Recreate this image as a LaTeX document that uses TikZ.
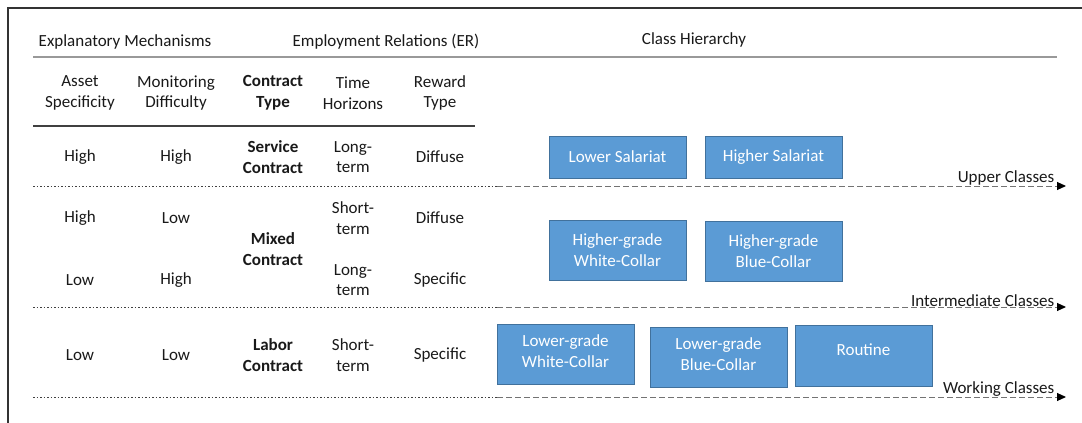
\documentclass[tikz,border=0pt]{standalone}
\usepackage{fontspec}
\setmainfont{Carlito}
\usetikzlibrary{arrows.meta}
\definecolor{boxfill}{HTML}{5B9BD5}
\definecolor{boxline}{HTML}{41719C}
\definecolor{frame}{HTML}{333333}
\begin{document}
\begin{tikzpicture}[x=1pt,y=-1pt,
  txt/.style={font=\fontsize{17}{20.5}\selectfont, align=center, inner sep=0pt, text=black!90},
  bold/.style={txt, font=\fontsize{17}{20.5}\selectfont\bfseries},
  cls/.style={draw=boxline, line width=1pt, fill=boxfill, text=white, font=\fontsize{17}{20.5}\selectfont, align=center, minimum width=137pt, inner sep=0pt},
  lab/.style={font=\fontsize{17}{20.5}\selectfont, inner sep=0.5pt, anchor=south east, text=black!90},
  dotpart/.style={draw=black!75, line width=1pt, dash pattern=on 1.5pt off 2pt},
  dashpart/.style={draw=black!55, line width=1pt, dash pattern=on 6pt off 3pt},
  tippart/.style={draw=black, line width=1pt, solid, -{Triangle[length=9pt,width=8pt]}}
]
\useasboundingbox (0,0) rectangle (1082,423);
% frame
\coordinate (f1) at (8,423);
\coordinate (f2) at (8,8);
\coordinate (f3) at (1082,8);
\draw[frame, line width=2pt] (f1) -- (f2) -- (f3);

% header
\node[txt] (hEM) at (125,42) {Explanatory Mechanisms};
\node[txt] (hER) at (386,42) {Employment Relations (ER)};
\node[txt] (hCH) at (694,40) {Class Hierarchy};
\coordinate (g1) at (33,57);
\coordinate (g2) at (1057,57);
\draw[black!40, line width=1.3pt] (g1) -- (g2);

% column headers
\node[txt] (cAS) at (80,93) {Asset\\Specificity};
\node[txt] (cMD) at (176,93) {Monitoring\\Difficulty};
\node[bold] (cCT) at (273,93) {Contract\\Type};
\node[txt] (cTH) at (353,93) {Time\\Horizons};
\node[txt] (cRT) at (440,93) {Reward\\Type};
\coordinate (t1) at (33,126);
\coordinate (t2) at (475,126);
\draw[black!75, line width=2.2pt] (t1) -- (t2);

% row 1
\node[txt] (r1a) at (80,157) {High};
\node[txt] (r1b) at (176,157) {High};
\node[bold] (r1c) at (273,157) {Service\\Contract};
\node[txt] (r1d) at (353,157) {Long-\\term};
\node[txt] (r1e) at (440,157) {Diffuse};

% row 2
\node[txt] (r2a) at (80,218) {High};
\node[txt] (r2b) at (176,218) {Low};
\node[txt] (r2d) at (353,218) {Short-\\term};
\node[txt] (r2e) at (440,218) {Diffuse};
\node[bold] (r2c) at (273,249) {Mixed\\Contract};
\node[txt] (r3a) at (80,280) {Low};
\node[txt] (r3b) at (176,280) {High};
\node[txt] (r3d) at (353,280) {Long-\\term};
\node[txt] (r3e) at (440,280) {Specific};

% row 3
\node[txt] (r4a) at (80,355) {Low};
\node[txt] (r4b) at (176,355) {Low};
\node[bold] (r4c) at (273,355) {Labor\\Contract};
\node[txt] (r4d) at (353,355) {Short-\\term};
\node[txt] (r4e) at (440,355) {Specific};

% class boxes
\node[cls, minimum height=42pt] (ls) at (617.5,157) {Lower Salariat};
\node[cls, minimum height=42pt] (hs) at (773.5,157) {Higher Salariat};
\node[cls, minimum height=60pt] (hwc) at (617.5,250) {Higher-grade\\White-Collar};
\node[cls, minimum height=60pt] (hbc) at (773.5,251) {Higher-grade\\Blue-Collar};
\node[cls, minimum height=60pt, text depth=6pt] (lwc) at (565.5,354) {Lower-grade\\White-Collar};
\node[cls, minimum height=60pt, text depth=6pt] (lbc) at (718.5,357) {Lower-grade\\Blue-Collar};
\node[cls, minimum height=61pt, text depth=12pt] (rt) at (863.5,355.5) {Routine};

% class divider arrows
\foreach \n/\y/\t in {u/186/Upper Classes, i/307/Intermediate Classes, w/397/Working Classes}{
  \coordinate (\n0) at (33,\y);
  \coordinate (\n1) at (497,\y);
  \coordinate (\n2) at (1057,\y);
  \coordinate (\n3) at (1066,\y);
  \draw[dotpart] (\n0) -- (\n1);
  \draw[dashpart] (\n1) -- (\n2);
  \draw[tippart] (\n2) -- (\n3);
  \node[lab] (\n L) at (1055,\y) {\t};
}
\end{tikzpicture}
\end{document}
